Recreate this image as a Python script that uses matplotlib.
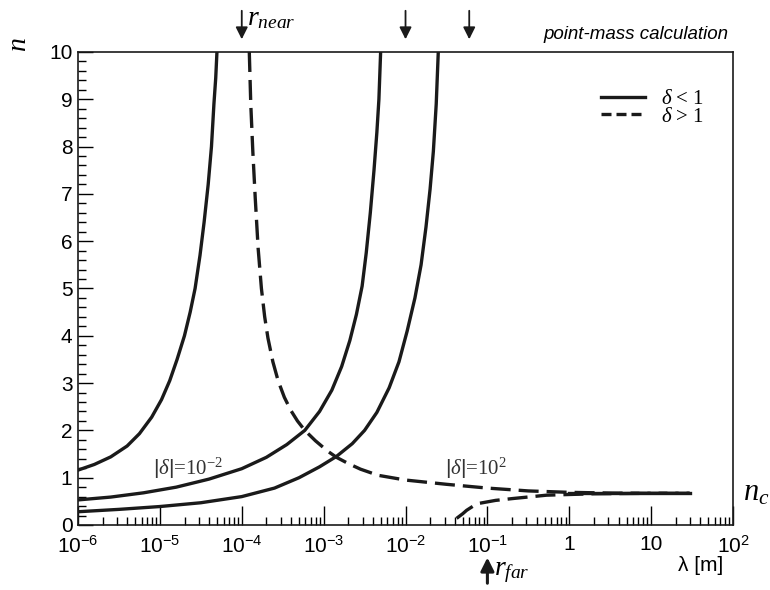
import numpy as np
import matplotlib
matplotlib.use('Agg')
import matplotlib.pyplot as plt
from matplotlib.lines import Line2D

plt.rcParams['font.family'] = ['Liberation Sans', 'DejaVu Sans']
plt.rcParams['mathtext.fontset'] = 'custom'
plt.rcParams['mathtext.rm'] = 'Liberation Sans'
plt.rcParams['mathtext.it'] = 'Liberation Serif:italic'

# curves: log10(lambda) and n
# solid, delta < 1
a_log = [-6.0, -5.8, -5.6, -5.4, -5.25, -5.1, -4.98, -4.88, -4.79, -4.70,
         -4.63, -4.57, -4.51, -4.46, -4.41, -4.37, -4.34, -4.318, -4.303]
a_n = [1.16, 1.28, 1.44, 1.67, 1.93, 2.28, 2.65, 3.05, 3.5, 4.0,
       4.5, 5.0, 5.7, 6.4, 7.2, 8.0, 8.9, 9.45, 10.0]

b_log = [-6.0, -5.6, -5.2, -4.8, -4.4, -4.0, -3.7, -3.45, -3.23, -3.05,
         -2.9, -2.78, -2.68, -2.6, -2.53, -2.48, -2.43, -2.385, -2.35, -2.325, -2.304]
b_n = [0.53, 0.59, 0.68, 0.80, 0.97, 1.19, 1.43, 1.70, 2.0, 2.40,
       2.85, 3.35, 3.9, 4.45, 5.05, 5.75, 6.6, 7.5, 8.3, 9.0, 10.0]

c_log = [-6.0, -5.5, -5.0, -4.5, -4.0, -3.6, -3.3, -3.05, -2.843, -2.65,
         -2.5, -2.35, -2.2, -2.08, -1.98, -1.885, -1.81, -1.75, -1.70, -1.66, -1.625, -1.60]
c_n = [0.28, 0.33, 0.39, 0.47, 0.60, 0.78, 1.0, 1.23, 1.45, 1.72,
       2.0, 2.38, 2.9, 3.45, 4.1, 4.8, 5.5, 6.3, 7.1, 7.9, 8.9, 10.0]

# dashed, delta > 1
d_log = [-3.908, -3.89, -3.865, -3.835, -3.80, -3.76, -3.72, -3.68, -3.62, -3.556,
         -3.48, -3.40, -3.32, -3.23, -3.1, -2.95, -2.843, -2.7, -2.55, -2.334,
         -2.0, -1.5, -1.0, -0.5, 0.0, 0.5, 1.0, 1.47]
d_n = [10.0, 8.9, 7.9, 6.9, 5.85, 5.0, 4.4, 3.95, 3.45, 3.05,
       2.7, 2.42, 2.2, 2.0, 1.78, 1.56, 1.43, 1.3, 1.18, 1.05,
       0.95, 0.86, 0.78, 0.72, 0.69, 0.675, 0.67, 0.67]

e_log = [-1.376, -1.30, -1.254, -1.173, -1.092, -0.9, -0.685, -0.277, 0.3, 1.0, 1.47]
e_n = [0.14, 0.24, 0.31, 0.40, 0.46, 0.52, 0.56, 0.63, 0.66, 0.67, 0.67]

nc_log = [0.0, 1.47]
nc_n = [0.67, 0.67]

arrow_top = [1e-4, 1e-2, 6e-2]
arrow_bottom = 1e-1

xticks = [1e-6, 1e-5, 1e-4, 1e-3, 1e-2, 1e-1, 1, 10, 100]
xticklabels = [r'$\mathregular{10^{-6}}$', r'$\mathregular{10^{-5}}$', r'$\mathregular{10^{-4}}$',
               r'$\mathregular{10^{-3}}$', r'$\mathregular{10^{-2}}$', r'$\mathregular{10^{-1}}$',
               '1', '10', r'$\mathregular{10^{2}}$']

fig = plt.figure(figsize=(7.7, 5.9), dpi=100)
ax = fig.add_axes([0.1013, 0.1102, 0.8507, 0.8017])

lw = 2.4
dash = (6, 2.4)
for lg, n in [(a_log, a_n), (b_log, b_n), (c_log, c_n)]:
    ax.plot(10 ** np.array(lg), n, color='#1a1a1a', lw=lw, solid_joinstyle='round')
for lg, n in [(d_log, d_n), (e_log, e_n)]:
    ax.plot(10 ** np.array(lg), n, color='#1a1a1a', lw=lw, dashes=dash)
ax.plot(10 ** np.array(nc_log), nc_n, color='#1a1a1a', lw=lw)

ax.set_xscale('log')
ax.set_xlim(1e-6, 1e2)
ax.set_ylim(0, 10)
ax.set_xticks(xticks)
ax.set_xticklabels(xticklabels)
ax.xaxis.set_minor_locator(matplotlib.ticker.LogLocator(base=10, subs=np.arange(2, 10)))
ax.xaxis.set_minor_formatter(matplotlib.ticker.NullFormatter())
ax.set_yticks(range(0, 11))
ax.set_yticks(np.arange(0, 10.01, 0.2), minor=True)
ax.tick_params(which='both', direction='in', top=False, right=False, labelsize=15)
ax.tick_params(axis='y', pad=4)
ax.tick_params(axis='x', pad=7)
ax.tick_params(which='major', length=11, width=1)
ax.tick_params(which='minor', length=6, width=1)
ax.tick_params(axis='x', which='major', length=14)
for s in ax.spines.values():
    s.set_linewidth(1.2)
    s.set_color('#1a1a1a')

# legend
h1 = Line2D([], [], color='#1a1a1a', lw=lw)
h2 = Line2D([], [], color='#1a1a1a', lw=lw, dashes=(3, 1.5))
ax.legend([h1, h2], [r'$\delta$ < 1', r'$\delta$ > 1'], loc='upper right',
          bbox_to_anchor=(0.985, 0.96), frameon=False, handlelength=2.1,
          labelspacing=-0.1, prop={'family': 'Liberation Serif', 'size': 15})

# labels
ax.text(0.115, 0.12, r'$|\mathit{\delta}|$=10$^{\mathregular{-2}}$', transform=ax.transAxes,
        fontsize=15, family='Liberation Serif', color='#333333', va='center')
ax.text(0.56, 0.12, r'$|\mathit{\delta}|$=10$^{\mathregular{2}}$', transform=ax.transAxes,
        fontsize=15, family='Liberation Serif', color='#333333', va='center')
fig.text(0.946, 0.942, 'point-mass calculation', ha='right', va='center',
         fontsize=13.5, style='italic')
fig.text(0.025, 0.925, r'$n$', rotation=90, fontsize=20, ha='center', va='center',
         family='Liberation Serif')
fig.text(0.965, 0.165, r'$n_c$', fontsize=22, ha='left', va='center', family='Liberation Serif')
fig.text(0.91, 0.042, r'λ [m]', fontsize=15, ha='center', va='center')

for lam in arrow_top:
    ax.annotate('', xy=(lam, 1.021), xytext=(lam, 1.093), xycoords=('data', 'axes fraction'),
                textcoords=('data', 'axes fraction'), annotation_clip=False,
                arrowprops=dict(arrowstyle='-|>', color='#1a1a1a', lw=1.3, mutation_scale=18))
ax.text(1.15e-4, 1.07, r'$r_{near}$', transform=ax.get_xaxis_transform(), fontsize=20,
        family='Liberation Serif', va='center')
ax.annotate('', xy=(arrow_bottom, -0.063), xytext=(arrow_bottom, -0.129),
            xycoords=('data', 'axes fraction'), textcoords=('data', 'axes fraction'),
            annotation_clip=False,
            arrowprops=dict(arrowstyle='-|>', color='#1a1a1a', lw=2.2, mutation_scale=20))
ax.text(1.22e-1, -0.1, r'$r_{far}$', transform=ax.get_xaxis_transform(), fontsize=20,
        family='Liberation Serif', va='center')

fig.savefig('out.png', dpi=100)
